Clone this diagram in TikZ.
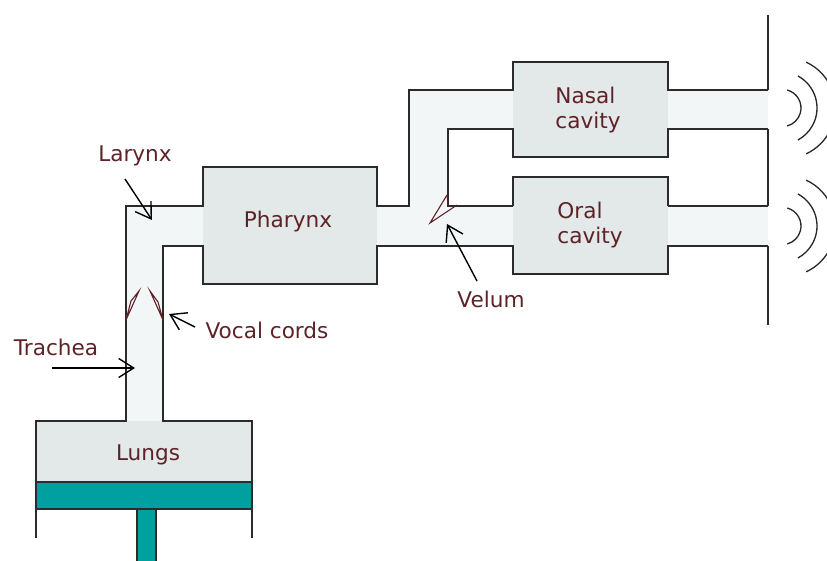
\documentclass[tikz,border=0pt]{standalone}
\usepackage{fontspec}
\setmainfont{DejaVu Sans}
\usepackage{xcolor}
\usepackage{tikz}
\usetikzlibrary{arrows.meta}
\definecolor{wallcolor}{HTML}{2B2B2B}
\definecolor{cavitycolor}{HTML}{E3E8E8}
\definecolor{ductcolor}{HTML}{F3F6F7}
\definecolor{pistoncolor}{HTML}{00A0A0}
\definecolor{textcolor}{HTML}{5E2328}
\begin{document}
\begin{tikzpicture}[
    x=1pt, y=-1pt,
    every node/.style={inner sep=0pt, outer sep=0pt},
    cavity/.style={rectangle, fill=cavitycolor},
    tag/.style={text=textcolor, font=\fontsize{21.6}{25}\selectfont},
    wall/.style={draw=wallcolor, line width=1.6pt},
    pointer/.style={draw=black, line width=1.4pt, -{Straight Barb[length=15pt,width=19pt]}},
    flap/.style={draw=textcolor, line width=1.1pt},
    wave/.style={draw=black!85, line width=1.3pt},
  ]
  \useasboundingbox (0,0) rectangle (827,561);

  % ducts
  \fill[ductcolor] (126,421) -- (126,206) -- (377,206) -- (409,206) -- (409,90) -- (768,90)
    -- (768,128) -- (448,128) -- (448,206) -- (768,206) -- (768,246) -- (163,246) -- (163,421) -- cycle;

  % cavities
  \node[cavity, minimum width=216pt, minimum height=61pt]  (lungs)   at (144,451.5)  {};
  \node[cavity, minimum width=174pt, minimum height=117pt] (pharynx) at (290,225.5)  {};
  \node[cavity, minimum width=155pt, minimum height=95pt]  (nasal)   at (590.5,109.5) {};
  \node[cavity, minimum width=155pt, minimum height=97pt]  (oral)    at (590.5,225.5) {};

  % piston
  \draw[wall, fill=pistoncolor] (137,509) rectangle (156,570);
  \draw[wall, fill=pistoncolor] (36,482) rectangle (252,509);

  % walls
  \draw[wall] (36,538) -- (36,421) -- (126,421) -- (126,206) -- (203,206) -- (203,167) -- (377,167)
    -- (377,206) -- (409,206) -- (409,90) -- (513,90) -- (513,62) -- (668,62) -- (668,90) -- (768,90);
  \draw[wall] (252,538) -- (252,421) -- (163,421) -- (163,246) -- (203,246) -- (203,284) -- (377,284)
    -- (377,246) -- (513,246) -- (513,274) -- (668,274) -- (668,246) -- (768,246);
  \draw[wall] (513,206) -- (448,206) -- (448,129) -- (513,129) -- (513,157) -- (668,157) -- (668,129) -- (768,129);
  \draw[wall] (668,206) -- (668,177) -- (513,177) -- (513,206);
  \draw[wall] (668,206) -- (768,206);
  \draw[wall, line width=1.3pt] (768,15) -- (768,90);
  \draw[wall, line width=1.3pt] (768,129) -- (768,206);
  \draw[wall, line width=1.3pt] (768,246) -- (768,325);

  % vocal cords and velum
  \draw[flap] (126,320) -- (139,291) -- (131,301) -- cycle;
  \draw[flap] (163,320) -- (150,291) -- (158,302) -- cycle;
  \draw[flap] (447,195) -- (430,223) -- (457,205);
  \draw[flap] (447,195) -- (448,205);

  % sound
  \begin{scope}
    \clip (0,0) rectangle (827,561);
    \foreach \cy in {108,226} {
      \draw[wave] ([shift={(782.4,\cy)}]-75:18.6) arc[start angle=-75, end angle=75, radius=18.6];
      \draw[wave] ([shift={(780.6,\cy)}]-61.6:36.4) arc[start angle=-61.6, end angle=61.6, radius=36.4];
      \draw[wave] ([shift={(784.8,\cy)}]-65:50.6) arc[start angle=-65, end angle=65, radius=50.6];
    }
  \end{scope}

  % labels
  \node[tag] (pharynxtag) at (288,222) {Pharynx};
  \node[tag, align=left] (nasaltag) at (588,110) {Nasal\\cavity};
  \node[tag, align=left] (oraltag) at (590,225) {Oral\\cavity};
  \node[tag] (lungstag) at (148,455) {Lungs};
  \node[tag] (larynx)  at (135,156) {Larynx};
  \node[tag] (trachea) at (56,347)  {Trachea};
  \node[tag] (cords)   at (267,330) {Vocal cords};
  \node[tag] (velum)   at (491,299) {Velum};

  % pointers
  \coordinate (larynxtail)  at (125,179);
  \coordinate (larynxhead)  at (152,220);
  \coordinate (tracheatail) at (52,368);
  \coordinate (tracheahead) at (135,368);
  \coordinate (cordstail)   at (195,327);
  \coordinate (cordshead)   at (169,314);
  \coordinate (velumtail)   at (477,281);
  \coordinate (velumhead)   at (447,224);

  \draw[pointer] (larynxtail)  -- (larynxhead);
  \draw[pointer] (tracheatail) -- (tracheahead);
  \draw[pointer] (cordstail)   -- (cordshead);
  \draw[pointer] (velumtail)   -- (velumhead);

\end{tikzpicture}
\end{document}
